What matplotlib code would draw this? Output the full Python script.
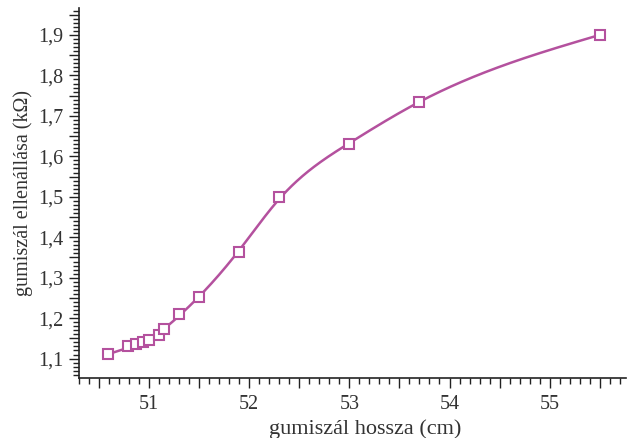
import matplotlib

matplotlib.use("Agg")
import matplotlib.pyplot as plt
import numpy as np
from matplotlib.ticker import FuncFormatter, MultipleLocator

# rubber-band length (cm) vs resistance (kOhm)
length_cm = [50.59, 50.79, 50.87, 50.94, 51.0, 51.1, 51.15, 51.3, 51.5,
             51.9, 52.3, 53.0, 53.7, 55.5]
resistance_kohm = [1.112, 1.130, 1.135, 1.140, 1.147, 1.159, 1.174, 1.211,
                   1.253, 1.364, 1.500, 1.631, 1.735, 1.900]

COLOR = "#b4519e"


def smoothing_curve(x, y, lam=3000.0, n=600):
    """Penalised least-squares smooth line through the measurements (drawn line only)."""
    x = np.asarray(x, float)
    y = np.asarray(y, float)
    g = np.linspace(x[0], x[-1], n)
    step = g[1] - g[0]
    B = np.zeros((len(x), n))
    for i, xi in enumerate(x):
        k = min(int((xi - g[0]) / step), n - 2)
        w = (xi - g[k]) / step
        B[i, k] = 1 - w
        B[i, k + 1] = w
    D = np.diff(np.eye(n), 2, axis=0) / step**2
    A = B.T @ B + lam * step * (D.T @ D) * 1e-6
    f = np.linalg.solve(A, B.T @ y)
    return g, f


plt.rcParams["font.family"] = ["Liberation Serif", "DejaVu Serif"]

fig = plt.figure(figsize=(6.27, 4.38), dpi=100)
ax = fig.add_axes([0.126, 0.137, 0.872, 0.845])

cx, cy = smoothing_curve(length_cm, resistance_kohm)
ax.plot(cx, cy, color=COLOR, linewidth=1.8, zorder=2)
ax.plot(length_cm, resistance_kohm, linestyle="none", marker="s", markersize=6.5,
        markerfacecolor="white", markeredgecolor=COLOR, markeredgewidth=1.5, zorder=3)

ax.set_xlim(50.3, 55.76)
ax.set_ylim(1.052, 1.967)

ax.xaxis.set_major_locator(MultipleLocator(0.5))
ax.xaxis.set_minor_locator(MultipleLocator(0.1))
ax.yaxis.set_major_locator(MultipleLocator(0.05))
ax.yaxis.set_minor_locator(MultipleLocator(0.01))


def xfmt(v, pos):
    return f"{v:.0f}" if abs(v - round(v)) < 1e-6 else ""


def yfmt(v, pos):
    r = round(v * 10)
    return f"{v:.1f}".replace(".", ",") if abs(v * 10 - r) < 1e-6 else ""


ax.xaxis.set_major_formatter(FuncFormatter(xfmt))
ax.yaxis.set_major_formatter(FuncFormatter(yfmt))

ax.tick_params(which="major", direction="out", length=7, width=1.0,
               labelsize=14.5, color="#222222", labelcolor="#333333")
ax.tick_params(which="minor", direction="out", length=4, width=1.0, color="#222222")
ax.tick_params(axis="x", pad=5)
ax.tick_params(axis="y", pad=4)

for side in ("top", "right"):
    ax.spines[side].set_visible(False)
for side in ("left", "bottom"):
    ax.spines[side].set_linewidth(1.2)
    ax.spines[side].set_color("#222222")

ax.set_xlabel("gumiszál hossza (cm)", fontsize=16, color="#333333", labelpad=4)
ax.xaxis.label.set_x(0.523)
ax.set_ylabel("gumiszál ellenállása (kΩ)", fontsize=14.5, color="#333333", labelpad=4)

fig.savefig("out.png", dpi=100)
